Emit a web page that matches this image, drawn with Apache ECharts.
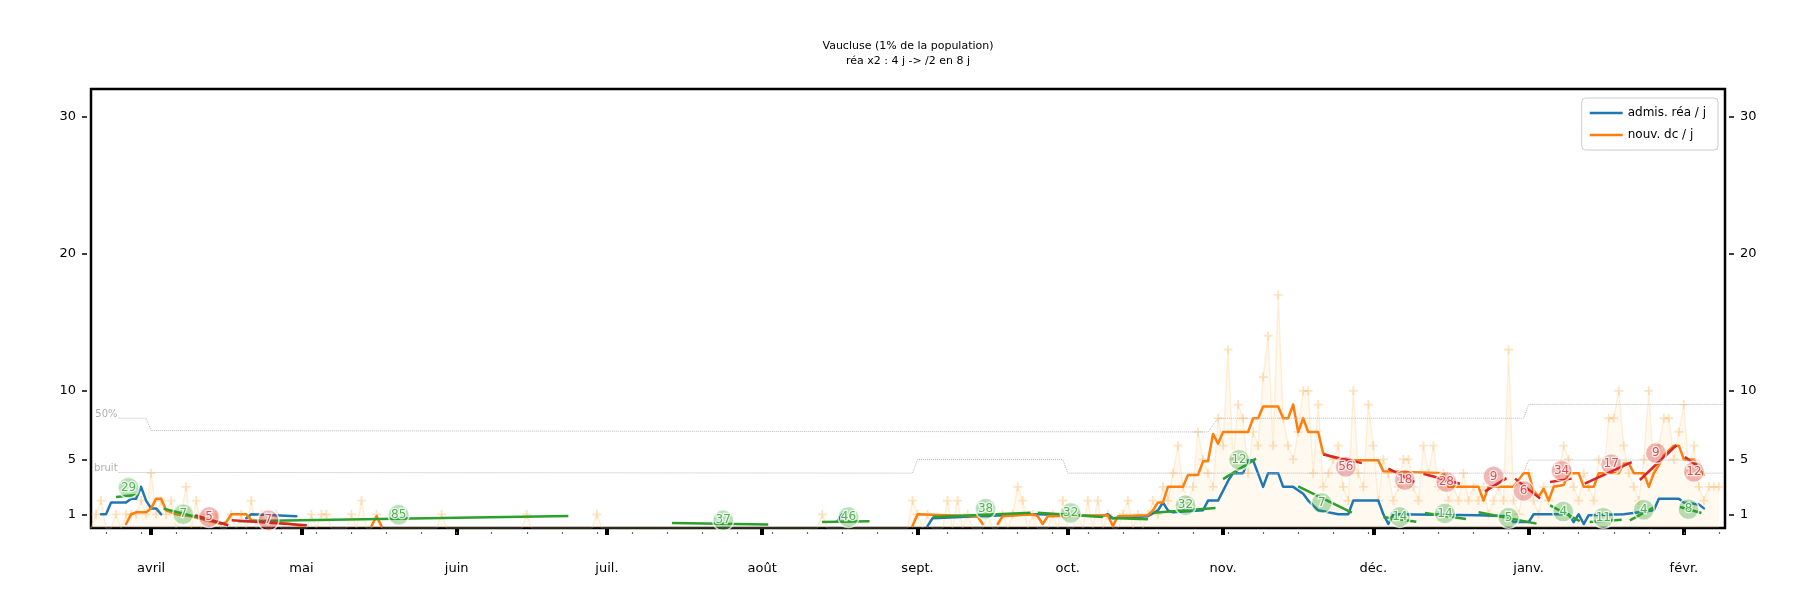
<!DOCTYPE html>
<html>
<head>
<meta charset="utf-8">
<title>Vaucluse</title>
<script src="https://cdn.jsdelivr.net/npm/echarts@6/dist/echarts.min.js"></script>
<style>
  html, body { margin: 0; padding: 0; background: #fff; }
  #chart { width: 1816px; height: 600px; }
</style>
</head>
<body>
<div id="chart"></div>
<script>
// axes
var monthTicks = ['2020-04-01','2020-05-01','2020-06-01','2020-07-01','2020-08-01','2020-09-01',
                  '2020-10-01','2020-11-01','2020-12-01','2021-01-01','2021-02-01'];
var monthNames = ['avril','mai','juin','juil.','août','sept.','oct.','nov.','déc.','janv.','févr.'];
var yTicks = [1, 5, 10, 20, 30];

// admis. réa / j (moyenne 7 j)
var reaAdmis = [
  ['2020-03-22',1.0],['2020-03-23',1.0],['2020-03-24',1.86],['2020-03-27',1.86],['2020-03-28',2.14],
  ['2020-03-29',2.14],['2020-03-30',3.0],['2020-03-31',2.0],['2020-04-01',1.43],['2020-04-02',1.43],
  ['2020-04-03',1.0],['2020-04-04',null],
  ['2020-04-20',0.71],['2020-04-21',1.0],['2020-04-30',0.86],['2020-05-01',null],
  ['2020-08-16',0.5],['2020-08-17',1.0],['2020-08-18',null],
  ['2020-09-03',0.14],['2020-09-04',0.71],['2020-09-13',0.86],['2020-09-24',1.0],['2020-09-25',1.0],
  ['2020-10-08',0.86],['2020-10-09',1.0],['2020-10-10',0.71],['2020-10-17',0.86],['2020-10-19',1.29],
  ['2020-10-20',1.86],['2020-10-21',1.29],['2020-10-22',1.14],['2020-10-28',1.29],['2020-10-29',2.0],
  ['2020-10-31',2.0],['2020-11-02',3.43],['2020-11-03',4.0],['2020-11-05',4.0],['2020-11-06',4.93],
  ['2020-11-07',4.93],['2020-11-09',3.0],['2020-11-10',4.0],['2020-11-12',4.0],['2020-11-13',3.0],
  ['2020-11-15',3.0],['2020-11-17',2.5],['2020-11-18',2.0],['2020-11-20',1.29],['2020-11-24',1.0],
  ['2020-11-26',1.0],['2020-11-27',2.0],['2020-12-02',2.0],['2020-12-03',1.0],['2020-12-04',0.29],
  ['2020-12-05',1.0],['2020-12-22',0.93],['2020-12-28',0.86],['2020-12-29',0.43],['2021-01-01',0.43],
  ['2021-01-02',1.0],['2021-01-09',1.0],['2021-01-10',0.43],['2021-01-11',1.0],['2021-01-12',0.29],
  ['2021-01-13',0.93],['2021-01-20',1.0],['2021-01-26',1.29],['2021-01-27',2.14],['2021-01-31',2.14],
  ['2021-02-01',1.86],['2021-02-04',1.71],['2021-02-05',1.43]
];

// nouv. dc / j (moyenne 7 j)
var dcNouv = [
  ['2020-03-27',0.29],['2020-03-28',1.0],['2020-03-29',1.14],['2020-03-31',1.14],['2020-04-01',1.43],
  ['2020-04-02',2.14],['2020-04-03',2.14],['2020-04-04',1.29],['2020-04-06',1.0],['2020-04-09',0.86],
  ['2020-04-12',0.57],['2020-04-15',0.29],['2020-04-16',0.43],['2020-04-17',1.0],['2020-04-20',1.0],
  ['2020-04-21',0.57],['2020-04-25',0.43],['2020-04-29',0.29],['2020-05-01',0.14],['2020-05-02',null],
  ['2020-05-15',0.14],['2020-05-16',0.86],['2020-05-17',0.14],['2020-05-18',null],
  ['2020-08-31',0.14],['2020-09-01',1.0],['2020-09-13',0.86],['2020-09-14',0.29],['2020-09-15',null],
  ['2020-09-17',0.29],['2020-09-18',0.86],['2020-09-24',1.0],['2020-09-25',0.86],['2020-09-26',0.29],
  ['2020-09-27',0.86],['2020-10-09',0.93],['2020-10-10',0.14],['2020-10-11',0.86],['2020-10-17',0.93],
  ['2020-10-18',1.29],['2020-10-19',1.86],['2020-10-20',1.86],['2020-10-21',3.0],['2020-10-24',3.0],
  ['2020-10-25',3.86],['2020-10-27',3.86],['2020-10-28',4.86],['2020-10-29',4.86],['2020-10-30',6.86],
  ['2020-10-31',6.14],['2020-11-01',7.0],['2020-11-06',7.0],['2020-11-07',8.0],['2020-11-08',8.0],
  ['2020-11-09',8.86],['2020-11-12',8.86],['2020-11-13',8.0],['2020-11-14',8.0],['2020-11-15',9.0],
  ['2020-11-16',7.0],['2020-11-17',8.0],['2020-11-18',7.0],['2020-11-20',7.0],['2020-11-21',5.43],
  ['2020-11-23',5.14],['2020-11-26',4.93],['2020-12-02',4.93],['2020-12-03',4.14],['2020-12-15',4.0],
  ['2020-12-16',3.0],['2020-12-22',3.0],['2020-12-23',2.0],['2020-12-24',3.0],['2020-12-29',3.0],
  ['2020-12-31',4.0],['2021-01-01',4.0],['2021-01-02',2.71],['2021-01-03',2.29],['2021-01-04',2.86],
  ['2021-01-05',2.0],['2021-01-06',3.0],['2021-01-08',3.14],['2021-01-09',4.0],['2021-01-11',4.0],
  ['2021-01-12',3.0],['2021-01-14',3.0],['2021-01-15',4.0],['2021-01-19',4.0],['2021-01-20',4.71],
  ['2021-01-21',4.71],['2021-01-22',4.0],['2021-01-24',4.0],['2021-01-25',3.0],['2021-01-26',4.0],
  ['2021-01-27',4.57],['2021-01-28',5.29],['2021-01-30',6.0],['2021-01-31',6.0],['2021-02-01',5.0],
  ['2021-02-03',5.0],['2021-02-04',4.29],['2021-02-05',3.86]
];

// décès bruts par jour, un tableau par mois
var dcStarts = ['2020-03-19','2020-04-01','2020-05-01','2020-06-01','2020-07-01','2020-08-01',
                '2020-09-01','2020-10-01','2020-11-01','2020-12-01','2021-01-01','2021-02-01'];
var dcMars = [0,0,1,2,0,0,1,0,1,1,1,2,1];
var dcAvr  = [4,1,2,1,2,0,1,3,0,2, 0,1,0,1,0,0,1,0,1,0, 2,0,1,0,0,1,0,0,0,0];
var dcMai  = [0,0,1,0,1,1,0,0,0,0, 1,0,2,0,0,1,0,0,0,0, 0,0,0,0,0,0,0,0,1,0,0];
var dcJuin = [0,0,0,0,0,0,0,0,0,0, 0,0,0,0,1,0,0,0,0,0, 0,0,0,0,0,0,0,0,1,0];
var dcJuil = [0,0,0,0,0,0,0,0,0,0, 0,0,0,0,0,0,0,0,0,0, 0,0,0,0,0,0,0,0,0,0,0];
var dcAout = [0,0,0,0,0,0,0,0,0,0, 0,0,1,0,0,0,0,0,0,0, 0,0,0,0,0,0,0,0,0,0,2];
var dcSept = [1,0,1,0,0,0,2,0,2,0, 1,0,0,0,1,0,0,1,0,1, 3,2,0,1,0,0,0,1,0,2];
var dcOct  = [0,0,1,0,2,0,2,0,1,0, 0,1,2,0,1,0,1,2,1,3, 2,4,6,3,2,3,7,5,4,3, 8];
var dcNov  = [6,13,5,9,8,4,7,6,11,14, 6,17,8,6,5,7,10,10,4,9, 3,4,5,6,3,2,10,4,3,9];
var dcDec  = [6,2,5,4,2,3,5,5,3,2, 6,4,6,3,4,2,3,2,4,2, 3,2,3,1,2,3,2,13,2,1, 3];
var dcJanv = [4,2,1,3,2,3,4,6,5,3, 2,4,3,2,5,4,8,8,10,6, 4,3,2,5,10,4,6,8,8,5, 7];
var dcFev  = [9,4,6,3,2,3,3,3];

// seuils
var seuil50 = [['2020-03-25 12:00',8.0],['2020-03-31',8.0],['2020-04-01',7.1],['2020-10-29',7.0],
               ['2020-10-31',8.0],['2020-12-31',8.0],['2021-01-01',9.0],['2021-02-09',9.0]];
var seuilBruit = [['2020-03-25 12:00',4.05],['2020-08-31',4.0],['2020-09-01',5.0],['2020-09-30',5.0],
                  ['2020-10-01',4.0],['2020-12-31',4.0],['2021-01-01',4.95],['2021-02-04',4.95],
                  ['2021-02-05',4.0],['2021-02-09',4.0]];

// ajustements : début, valeur, fin, valeur, jours, position étiquette
var fitsRea = [
  ['2020-03-25',2.26,'2020-03-29 12:00',2.43,29,'2020-03-27 12:00',2.94],
  ['2020-04-03 12:00',1.41,'2020-04-15 19:00',0.27,7,'2020-04-07 10:00',1.0],
  ['2020-04-18 10:00',0.49,'2020-06-23 07:00',0.87,85,'2020-05-20 10:00',0.96],
  ['2020-07-14',0.36,'2020-08-02 05:00',0.25,37,'2020-07-24 05:00',0.56],
  ['2020-08-12 22:00',0.44,'2020-08-22 10:00',0.49,46,'2020-08-18 05:00',0.8],
  ['2020-09-04',0.80,'2020-09-23 14:00',1.12,38,'2020-09-14 14:00',1.4],
  ['2020-09-25',1.12,'2020-10-08',0.80,32,'2020-10-01 14:00',1.1],
  ['2020-10-09 07:00',0.73,'2020-10-17',0.63,null,null,null],
  ['2020-10-18 05:00',1.12,'2020-10-30 12:00',1.45,32,'2020-10-24 12:00',1.66],
  ['2020-11-01',3.56,'2020-11-07 14:00',5.06,12,'2020-11-04 05:00',4.98],
  ['2020-11-16',3.04,'2020-11-26 17:00',1.12,7,'2020-11-20 17:00',1.82],
  ['2020-12-03',0.8,'2020-12-09 14:00',0.46,14,'2020-12-06 07:00',0.81],
  ['2020-12-11 07:00',1.1,'2020-12-19 12:00',0.65,14,'2020-12-15 07:00',1.06],
  ['2020-12-22',1.15,'2021-01-02 14:00',0.32,5,'2020-12-28',0.75],
  ['2021-01-05 07:00',1.65,'2021-01-11 05:00',0.5,4,'2021-01-07 22:00',1.2],
  ['2021-01-13 05:00',0.44,'2021-01-19 14:00',0.6,11,'2021-01-15 22:00',0.75],
  ['2021-01-21 05:00',0.56,'2021-01-25 22:00',1.48,4,'2021-01-24',1.33],
  ['2021-01-31 05:00',1.53,'2021-02-04 12:00',1.09,8,'2021-02-01 22:00',1.37]
];
var fitsDc = [
  ['2020-04-09 19:00',0.93,'2020-04-16 10:00',0.2,5,'2020-04-12 14:00',0.8],
  ['2020-04-17 02:00',0.56,'2020-05-02 02:00',0.2,7,'2020-04-24 10:00',0.56],
  ['2020-11-21',5.36,'2020-11-28 17:00',4.73,56,'2020-11-25 12:00',4.46],
  ['2020-12-04',4.32,'2020-12-09 07:00',3.35,18,'2020-12-07 07:00',3.5],
  ['2020-12-11',3.96,'2020-12-18 07:00',3.23,28,'2020-12-15 14:00',3.35],
  ['2020-12-23 07:00',2.67,'2020-12-27 14:00',3.64,9,'2020-12-25',3.75],
  ['2020-12-29 07:00',3.6,'2021-01-03 07:00',2.14,6,'2020-12-31',2.7],
  ['2021-01-05 07:00',3.35,'2021-01-09 14:00',3.6,34,'2021-01-07 14:00',4.18],
  ['2021-01-12 05:00',3.23,'2021-01-21 14:00',4.81,17,'2021-01-17 12:00',4.65],
  ['2021-01-23 05:00',3.5,'2021-01-30 12:00',6.03,9,'2021-01-26 10:00',5.46],
  ['2021-02-01 05:00',5.17,'2021-02-03 12:00',4.57,12,'2021-02-03 00:00',4.1]
];

var DAY = 86400000;
function ts(s) {
  var p = s.split(/[- :]/);
  return Date.UTC(+p[0], +p[1] - 1, +p[2], +(p[3] || 0), +(p[4] || 0));
}
function pts(arr) {
  return arr.map(function (r) { return [ts(r[0]), r[1] === null ? '-' : r[1]]; });
}
function fitLines(rows) {
  var out = [];
  rows.forEach(function (r) {
    out.push([ts(r[0]), r[1]]);
    out.push([ts(r[2]), r[3]]);
    out.push([ts(r[2]) + 1, '-']);
  });
  return out;
}
function fitLabels(rows) {
  return rows.filter(function (r) { return r[4] !== null; })
             .map(function (r) { return [ts(r[5]), r[6], r[4]]; });
}

var dcMonths = [dcMars, dcAvr, dcMai, dcJuin, dcJuil, dcAout, dcSept, dcOct, dcNov, dcDec, dcJanv, dcFev];
var dcDaily = [];
dcMonths.forEach(function (m, k) {
  var t0 = ts(dcStarts[k]);
  for (var i = 0; i < m.length; i++) dcDaily.push([t0 + i * DAY, m[i]]);
});

var xMin = ts('2020-03-20'), xMax = ts('2021-02-09 05:00');
var monthMs = monthTicks.map(ts);
var mondays = [];
for (var t = ts('2020-03-23'); t <= xMax; t += 7 * DAY) mondays.push(t);

var plusPath = 'path://M4,0 L6,0 L6,4 L10,4 L10,6 L6,6 L6,10 L4,10 L4,6 L0,6 L0,4 L4,4 Z';
var fontFam = 'DejaVu Sans';

function refLine(arr, txt) {
  var d = pts(arr).map(function (p, i) {
    if (i === 0) {
      return { value: p, label: { show: true, position: 'left', distance: 1, offset: [0, -4],
               formatter: txt, color: '#b0b0b0', fontSize: 10, fontFamily: fontFam } };
    }
    return p;
  });
  return {
    type: 'line', data: d, symbol: 'circle', symbolSize: 0, silent: true, z: 9, clip: false,
    lineStyle: { color: '#b8b8b8', width: 1, type: 'dotted' }, itemStyle: { color: '#b8b8b8' }
  };
}

function labelSeries(rows, col, fill) {
  return {
    type: 'scatter', data: fitLabels(rows), symbol: 'circle', symbolSize: 21, z: 8, silent: true,
    itemStyle: { color: fill, borderColor: 'rgba(255,255,255,0.9)', borderWidth: 1.5 },
    label: {
      show: true, position: 'inside', color: col, fontSize: 12, fontFamily: fontFam,
      textBorderColor: '#fff', textBorderWidth: 2.5,
      formatter: function (p) { return p.value[2]; }
    }
  };
}

function xAx(extra) {
  var a = { type: 'value', min: xMin, max: xMax, position: 'bottom', axisLine: { show: false },
            axisTick: { show: false }, axisLabel: { show: false }, splitLine: { show: false } };
  for (var k in extra) a[k] = extra[k];
  return a;
}
function yAx(pos) {
  return { type: 'value', min: 0, max: 32, interval: 1, position: pos, offset: 4, axisLine: { show: false },
    axisTick: { show: true, customValues: yTicks, length: 5, lineStyle: { color: '#000', width: 1.5 } },
    axisLabel: { customValues: yTicks, margin: 11, fontSize: 13, color: '#000' },
    splitLine: { show: false } };
}

var chart = echarts.init(document.getElementById('chart'));
chart.setOption({
  animation: false,
  textStyle: { fontFamily: fontFam },
  title: {
    text: 'Vaucluse (1% de la population)\nréa x2 : 4 j -> /2 en 8 j',
    left: 'center', top: 34,
    textStyle: { fontSize: 11, fontWeight: 'normal', lineHeight: 15, color: '#000', fontFamily: fontFam }
  },
  legend: {
    data: ['admis. réa / j', 'nouv. dc / j'],
    orient: 'vertical', right: 98, top: 98,
    icon: 'rect', itemWidth: 33, itemHeight: 2.5, itemGap: 10,
    padding: [9, 12, 9, 8],
    borderColor: '#ccc', borderWidth: 1, borderRadius: 4, backgroundColor: 'rgba(255,255,255,0.85)',
    textStyle: { fontSize: 12, color: '#000', fontFamily: fontFam }
  },
  grid: { left: 91, right: 91, top: 89, bottom: 72, show: true, borderColor: '#000', borderWidth: 2.5 },
  xAxis: [
    xAx({}),
    xAx({ offset: 4,
      axisTick: { show: true, customValues: monthMs, length: 7, lineStyle: { color: '#000', width: 4 } },
      axisLabel: { show: true, customValues: monthMs, margin: 30, fontSize: 13, color: '#000',
        formatter: function (v) { var i = monthMs.indexOf(v); return i >= 0 ? monthNames[i] : ''; } } }),
    xAx({ offset: 4,
      axisTick: { show: true, customValues: mondays, length: 2, lineStyle: { color: '#666', width: 1.2 } } })
  ],
  yAxis: [yAx('left'), yAx('right')],
  series: [
    {
      type: 'line', data: dcDaily, symbol: plusPath, z: 1, silent: true,
      symbolSize: function (v) { return v[1] > 0 ? 9 : 0; },
      itemStyle: { color: 'rgba(255,180,90,0.38)' },
      lineStyle: { color: 'rgba(255,205,140,0.3)', width: 1.5 },
      areaStyle: { color: 'rgba(255,210,150,0.2)' }
    },
    refLine(seuil50, '50%'),
    refLine(seuilBruit, 'bruit'),
    {
      name: 'admis. réa / j', type: 'line', data: pts(reaAdmis), showSymbol: false, z: 3,
      connectNulls: false, itemStyle: { color: '#1f77b4' },
      lineStyle: { color: '#1f77b4', width: 2.5, cap: 'round', join: 'round' }
    },
    {
      name: 'nouv. dc / j', type: 'line', data: pts(dcNouv), showSymbol: false, z: 4,
      connectNulls: false, itemStyle: { color: '#ff7f0e' },
      lineStyle: { color: '#ff7f0e', width: 2.5, cap: 'round', join: 'round' }
    },
    {
      type: 'line', data: fitLines(fitsRea), showSymbol: false, z: 6, connectNulls: false, silent: true,
      lineStyle: { color: '#2ca02c', width: 2.5 }, itemStyle: { color: '#2ca02c' }
    },
    {
      type: 'line', data: fitLines(fitsDc), showSymbol: false, z: 6, connectNulls: false, silent: true,
      lineStyle: { color: '#d62728', width: 2.5 }, itemStyle: { color: '#d62728' }
    },
    labelSeries(fitsRea, '#2ca02c', 'rgba(44,160,44,0.42)'),
    labelSeries(fitsDc, '#d62728', 'rgba(214,39,40,0.42)')
  ]
});
</script>
</body>
</html>
